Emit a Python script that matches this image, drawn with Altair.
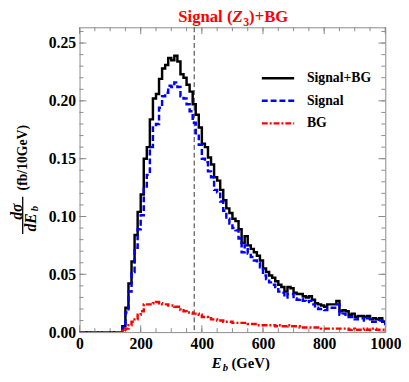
import altair as alt
import pandas as pd

# ---------------- data ----------------
bin_starts = list(range(0, 1000, 10))

sig_bg = [0, 0, 0, 0, 0, 0, 0, 0, 0, 0, 0, 0, 0, 0,
          0.005, 0.021, 0.042, 0.061, 0.084, 0.104, 0.119, 0.150, 0.160, 0.184,
          0.202, 0.206, 0.219, 0.228, 0.231, 0.237, 0.235, 0.239, 0.234, 0.223,
          0.220, 0.214, 0.208, 0.197, 0.188, 0.177, 0.163, 0.160, 0.151, 0.145,
          0.134, 0.131, 0.123, 0.114, 0.107, 0.103, 0.098, 0.096, 0.089, 0.077,
          0.083, 0.075, 0.072, 0.069, 0.066, 0.062, 0.055, 0.052, 0.049, 0.047,
          0.044, 0.041, 0.039, 0.035, 0.039, 0.038, 0.034, 0.033, 0.033, 0.031,
          0.030, 0.031, 0.028, 0.025, 0.024, 0.023, 0.022, 0.024, 0.024, 0.024,
          0.027, 0.018, 0.019, 0.018, 0.015, 0.016, 0.013, 0.014, 0.014, 0.013,
          0.014, 0.011, 0.012, 0.011, 0.012, 0.009]

signal = [0, 0, 0, 0, 0, 0, 0, 0, 0, 0, 0, 0, 0, 0,
          0.004, 0.017, 0.035, 0.052, 0.073, 0.089, 0.101, 0.126, 0.136, 0.160,
          0.177, 0.180, 0.194, 0.204, 0.207, 0.213, 0.212, 0.216, 0.212, 0.204,
          0.202, 0.197, 0.191, 0.181, 0.172, 0.162, 0.150, 0.147, 0.139, 0.134,
          0.123, 0.121, 0.113, 0.105, 0.098, 0.094, 0.090, 0.088, 0.081, 0.069,
          0.075, 0.068, 0.065, 0.062, 0.060, 0.056, 0.049, 0.046, 0.043, 0.041,
          0.039, 0.035, 0.034, 0.030, 0.033, 0.033, 0.029, 0.028, 0.029, 0.027,
          0.026, 0.027, 0.024, 0.021, 0.020, 0.020, 0.019, 0.021, 0.021, 0.021,
          0.024, 0.015, 0.016, 0.015, 0.013, 0.013, 0.011, 0.012, 0.012, 0.010,
          0.012, 0.009, 0.009, 0.009, 0.010, 0.007]

bg = [0, 0, 0, 0, 0, 0, 0, 0, 0, 0, 0, 0, 0, 0,
      0.001, 0.003, 0.006, 0.009, 0.011, 0.015, 0.018, 0.024, 0.024, 0.024,
      0.025, 0.026, 0.025, 0.024, 0.024, 0.023, 0.023, 0.022, 0.022, 0.019,
      0.018, 0.017, 0.017, 0.016, 0.016, 0.015, 0.013, 0.013, 0.012, 0.011,
      0.011, 0.010, 0.010, 0.009, 0.009, 0.009, 0.008, 0.008, 0.008, 0.008,
      0.008, 0.007, 0.007, 0.007, 0.006, 0.006, 0.006, 0.006, 0.006, 0.006,
      0.005, 0.006, 0.005, 0.005, 0.006, 0.005, 0.005, 0.005, 0.004, 0.004,
      0.004, 0.004, 0.004, 0.004, 0.004, 0.003, 0.003, 0.003, 0.003, 0.003,
      0.003, 0.003, 0.003, 0.003, 0.002, 0.003, 0.002, 0.002, 0.002, 0.003,
      0.002, 0.002, 0.003, 0.002, 0.002, 0.002]

series_names = ["Signal+BG", "Signal", "BG"]
x_tick_labels = [0, 200, 400, 600, 800, 1000]
y_tick_labels = [0.0, 0.05, 0.10, 0.15, 0.20, 0.25]
x_minor_ticks = list(range(0, 1001, 50))
y_minor_ticks = [i / 100 for i in range(0, 27)]
marker_energy = [375]

# ---------------- style ----------------
FONT = "Liberation Serif"
W, H = 312, 311
X_DOMAIN = [0, 1000]
Y_DOMAIN = [0, 0.2636]
FRAME = "#8a8a8a"

xaxis = alt.Axis(values=x_tick_labels, format="d", ticks=False, domain=False, grid=False,
                 labelFont=FONT, labelFontSize=16, labelFontWeight="bold",
                 labelColor="black", labelPadding=4, labelFlush=False, title=None)
yaxis = alt.Axis(values=y_tick_labels, format=".2f", ticks=False, domain=False, grid=False,
                 labelFont=FONT, labelFontSize=16, labelFontWeight="bold",
                 labelColor="black", labelPadding=4, labelFlush=False, title=None)
xscale = alt.Scale(domain=X_DOMAIN, nice=False, zero=False)
yscale = alt.Scale(domain=Y_DOMAIN, nice=False)


def X(field):
    return alt.X(f"{field}:Q", scale=xscale, axis=xaxis)


def Y(field):
    return alt.Y(f"{field}:Q", scale=yscale, axis=yaxis)


def step_layer(values, color, dash=None, width=2.3):
    df = pd.DataFrame({"E": bin_starts + [1000], "v": list(values) + [values[-1]]})
    kw = dict(interpolate="step-after", color=color, strokeWidth=width, clip=True)
    if dash:
        kw["strokeDash"] = dash
    return alt.Chart(df).mark_line(**kw).encode(x=X("E"), y=Y("v"))


def text(t, x, y, size=16, style="normal", weight="bold", color="black",
         align="left", baseline="alphabetic", angle=0):
    kw = dict(font=FONT, fontSize=size, fontStyle=style, fontWeight=weight,
              color=color, align=align, baseline=baseline)
    if angle:
        kw["angle"] = angle
    return alt.Chart(pd.DataFrame({"t": [t]})).mark_text(**kw).encode(
        text="t:N", x=alt.value(x), y=alt.value(y))


layers = []

# ticks on all four sides (inward)
ymin_df = pd.DataFrame({"v": y_minor_ticks})
ymaj_df = pd.DataFrame({"v": y_tick_labels})
xmin_df = pd.DataFrame({"E": x_minor_ticks})
xmaj_df = pd.DataFrame({"E": x_tick_labels})
tick = dict(color=FRAME, strokeWidth=1)
layers += [
    alt.Chart(ymin_df).mark_rule(**tick).encode(y=Y("v"), x=alt.value(0), x2=alt.value(4)),
    alt.Chart(ymin_df).mark_rule(**tick).encode(y=Y("v"), x=alt.value(W - 4), x2=alt.value(W)),
    alt.Chart(ymaj_df).mark_rule(**tick).encode(y=Y("v"), x=alt.value(0), x2=alt.value(7)),
    alt.Chart(ymaj_df).mark_rule(**tick).encode(y=Y("v"), x=alt.value(W - 7), x2=alt.value(W)),
    alt.Chart(xmin_df).mark_rule(**tick).encode(x=X("E"), y=alt.value(H), y2=alt.value(H - 4)),
    alt.Chart(xmin_df).mark_rule(**tick).encode(x=X("E"), y=alt.value(0), y2=alt.value(4)),
    alt.Chart(xmaj_df).mark_rule(**tick).encode(x=X("E"), y=alt.value(H), y2=alt.value(H - 7)),
    alt.Chart(xmaj_df).mark_rule(**tick).encode(x=X("E"), y=alt.value(0), y2=alt.value(7)),
]

# vertical dashed marker
layers.append(
    alt.Chart(pd.DataFrame({"E": marker_energy})).mark_rule(
        color="#333333", strokeWidth=1, strokeDash=[5, 3]).encode(x=X("E"))
)

# histograms
layers.append(step_layer(sig_bg, "black", None, 2.5))
layers.append(step_layer(signal, "#0000ff", [6, 3], 2.5))
layers.append(step_layer(bg, "#ff0000", [6, 2, 2, 2], 2.5))

# legend (manual, Mathematica style)
leg_styles = [("black", None), ("#0000ff", [6, 3]), ("#ff0000", [6, 2, 2, 2])]
leg_y = [52, 75, 98]
for name, (col, dash), ly in zip(series_names, leg_styles, leg_y):
    kw = dict(color=col, strokeWidth=2.5)
    if dash:
        kw["strokeDash"] = dash
    layers.append(alt.Chart(pd.DataFrame({"s": [name]})).mark_rule(**kw).encode(
        x=alt.value(186), x2=alt.value(219), y=alt.value(ly)))
    layers.append(text(name, 232, ly, size=14, baseline="middle"))

# title: Signal (Z3)+BG
RED = "#ff0000"
layers += [
    text("Signal (", 156, -5, size=17, color=RED, align="right"),
    text("Z", 156, -5, size=17, style="italic", color=RED),
    text("3", 167, -1, size=12, color=RED),
    text(")+BG", 173, -5, size=17, color=RED),
]

# x-axis title: E_b (GeV)
layers += [
    text("E", 135, 348, size=15, style="italic"),
    text("b", 146, 351, size=11, style="italic"),
    text("(GeV)", 155, 348, size=15),
]

# y-axis title: dσ / dE_b (fb/10GeV)
layers += [
    text("dσ", -64, 188, size=16, style="italic", align="center", baseline="middle", angle=270),
    alt.Chart(pd.DataFrame({"s": ["bar"]})).mark_rule(color="black", strokeWidth=1.3).encode(
        x=alt.value(-58), y=alt.value(173), y2=alt.value(211)),
    text("dE", -49, 199, size=16, style="italic", align="center", baseline="middle", angle=270),
    text("b", -45, 185, size=11, style="italic", align="center", baseline="middle", angle=270),
    text("(fb/10GeV)", -58, 133, size=14, align="center", baseline="middle", angle=270),
]

chart = alt.layer(*layers).properties(
    width=W, height=H,
    padding={"left": 73, "top": 16, "right": 16, "bottom": 38},
    autosize=alt.AutoSizeParams(type="none"),
    background="white",
).configure_view(stroke=FRAME, strokeWidth=1)

chart.save("out.html", embed_options={"renderer": "svg", "actions": False})
